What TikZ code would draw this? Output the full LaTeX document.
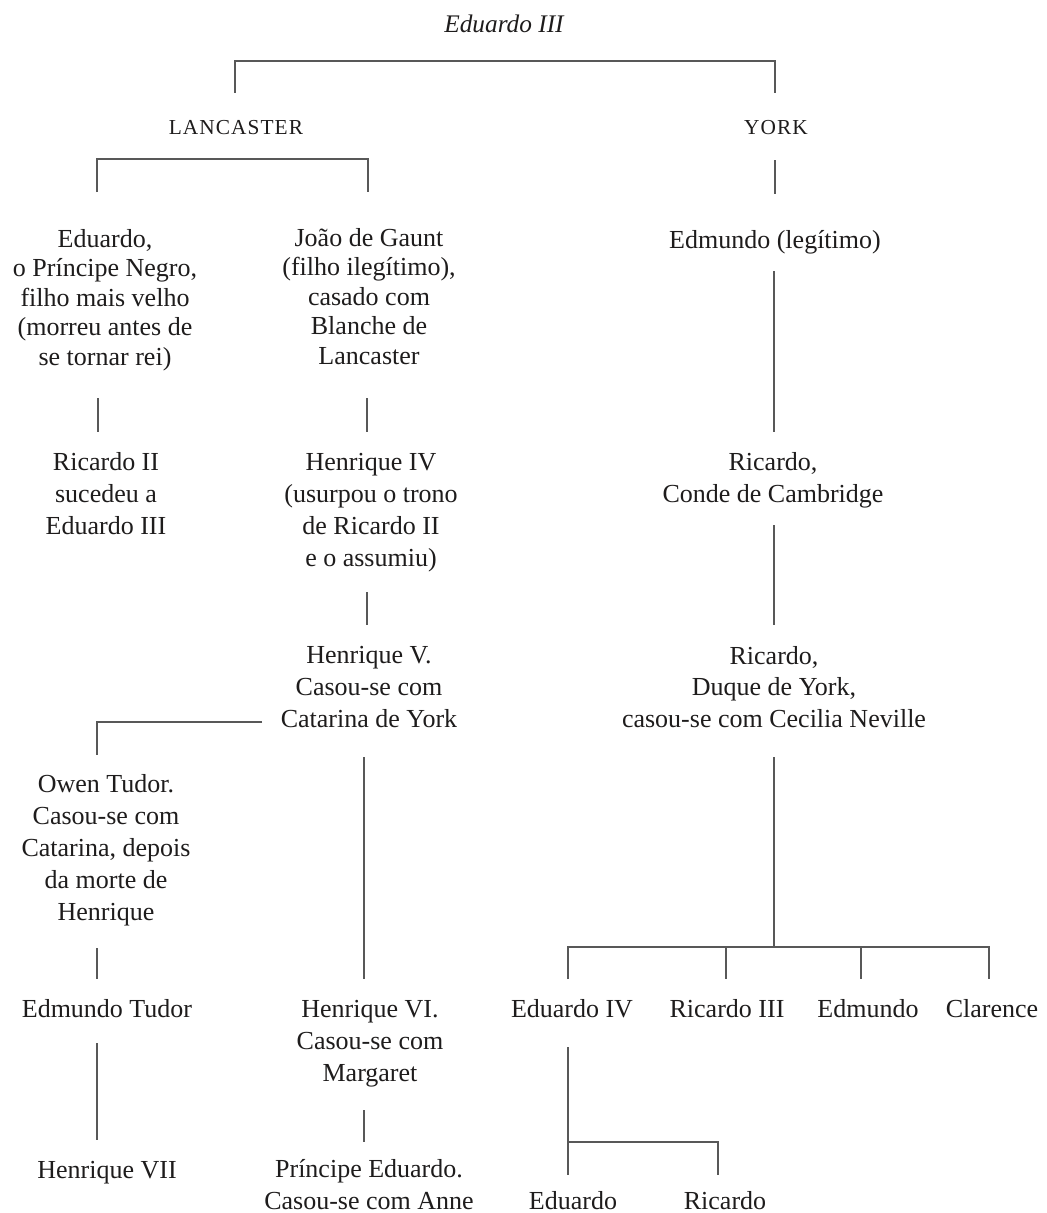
\documentclass[tikz,border=0pt]{standalone}
\usepackage{fontspec}
\setmainfont{Liberation Serif}
\usetikzlibrary{calc}
\definecolor{ink}{RGB}{30,28,28}
\definecolor{linegray}{RGB}{88,88,88}
\begin{document}
\begin{tikzpicture}[x=0.75pt,y=-0.75pt,
  every node/.style={inner sep=0pt,outer sep=0pt,text=ink,align=center,anchor=base},
  toptxt/.style={font=\fontsize{19.5}{22.1}\selectfont},
  txt/.style={font=\fontsize{19.5}{24}\selectfont},
  duquetxt/.style={font=\fontsize{19.5}{23.3}\selectfont},
  housetxt/.style={font=\fontsize{16}{19}\selectfont\addfontfeature{LetterSpace=5}},
  titletxt/.style={font=\fontsize{19}{22}\selectfont\itshape},
  conn/.style={draw=linegray,line width=1.5pt}]
\useasboundingbox (0,0) rectangle (1046,1213);

% nodes (positioned at the baseline of their last line)
\node[titletxt] (title) at (504,33) {Eduardo III};
\node[housetxt] (lanc) at (236,134) {LANCASTER};
\node[housetxt] (york) at (776,134) {YORK};

\node[toptxt] (edu) at (105,365) {Eduardo,\\o Príncipe Negro,\\filho mais velho\\(morreu antes de\\se tornar rei)};
\node[toptxt] (joao) at (369,364) {João de Gaunt\\(filho ilegítimo),\\casado com\\Blanche de\\Lancaster};
\node[txt] (edm) at (775,248) {Edmundo (legítimo)};

\node[txt] (ric2) at (106,534) {Ricardo II\\sucedeu a\\Eduardo III};
\node[txt] (hen4) at (371,566) {Henrique IV\\(usurpou o trono\\de Ricardo II\\e o assumiu)};
\node[txt] (ricc) at (773,502) {Ricardo,\\Conde de Cambridge};

\node[txt] (hen5) at (369,727) {Henrique V.\\Casou-se com\\Catarina de York};
\node[duquetxt] (duque) at (774,727) {Ricardo,\\Duque de York,\\casou-se com Cecilia Neville};

\node[txt] (owen) at (106,920) {Owen Tudor.\\Casou-se com\\Catarina, depois\\da morte de\\Henrique};

\node[txt] (etudor) at (107,1017) {Edmundo Tudor};
\node[txt] (hen6) at (370,1081) {Henrique VI.\\Casou-se com\\Margaret};
\node[txt] (edw4) at (572,1017) {Eduardo IV};
\node[txt] (ric3) at (727,1017) {Ricardo III};
\node[txt] (edmd) at (868,1017) {Edmundo};
\node[txt] (clar) at (992,1017) {Clarence};

\node[txt] (hen7) at (107,1178) {Henrique VII};
\node[txt] (princ) at (369,1209) {Príncipe Eduardo.\\Casou-se com Anne};
\node[txt] (edw) at (573,1209) {Eduardo};
\node[txt] (ric) at (725,1209) {Ricardo};

% connectors
\draw[conn] ($(lanc.base)+(-1,-41)$) |- ($(york.base)+(-1,-73)$) -- ($(york.base)+(-1,-41)$);
\draw[conn] ($(edu.base)+(-8,-173)$) |- ($(joao.base)+(-1,-205)$) -- ($(joao.base)+(-1,-172)$);
\draw[conn] ($(york.base)+(-1,26)$) -- ($(edm.base)+(0,-54)$);

\draw[conn] ($(edu.base)+(-7,33)$) -- ($(ric2.base)+(-8,-102)$);
\draw[conn] ($(joao.base)+(-2,34)$) -- ($(hen4.base)+(-4,-134)$);
\draw[conn] ($(edm.base)+(-1,23)$) -- ($(ricc.base)+(1,-70)$);

\draw[conn] ($(hen4.base)+(-4,26)$) -- ($(hen5.base)+(-2,-102)$);
\draw[conn] ($(ricc.base)+(1,23)$) -- ($(duque.base)+(0,-102)$);

\draw[conn] ($(hen5.base)+(-107,-5)$) -| ($(owen.base)+(-9,-165)$);
\draw[conn] ($(hen5.base)+(-5,30)$) -- ($(hen6.base)+(-6,-102)$);

\draw[conn] ($(owen.base)+(-9,28)$) -- ($(etudor.base)+(-10,-38)$);
\draw[conn] ($(etudor.base)+(-10,26)$) -- ($(hen7.base)+(-10,-38)$);
\draw[conn] ($(hen6.base)+(-6,29)$) -- ($(princ.base)+(-5,-67)$);

\draw[conn] ($(duque.base)+(0,30)$) -- ($(ric3.base)+(47,-70)$);
\draw[conn] ($(edw4.base)+(-4,-38)$) |- ($(clar.base)+(-3,-70)$) -- ($(clar.base)+(-3,-38)$);
\draw[conn] ($(ric3.base)+(-1,-70)$) -- ($(ric3.base)+(-1,-38)$);
\draw[conn] ($(edmd.base)+(-7,-70)$) -- ($(edmd.base)+(-7,-38)$);

\draw[conn] ($(edw4.base)+(-4,30)$) -- ($(edw.base)+(-5,-34)$);
\draw[conn] ($(edw.base)+(-5,-67)$) -| ($(ric.base)+(-7,-34)$);
\end{tikzpicture}
\end{document}
